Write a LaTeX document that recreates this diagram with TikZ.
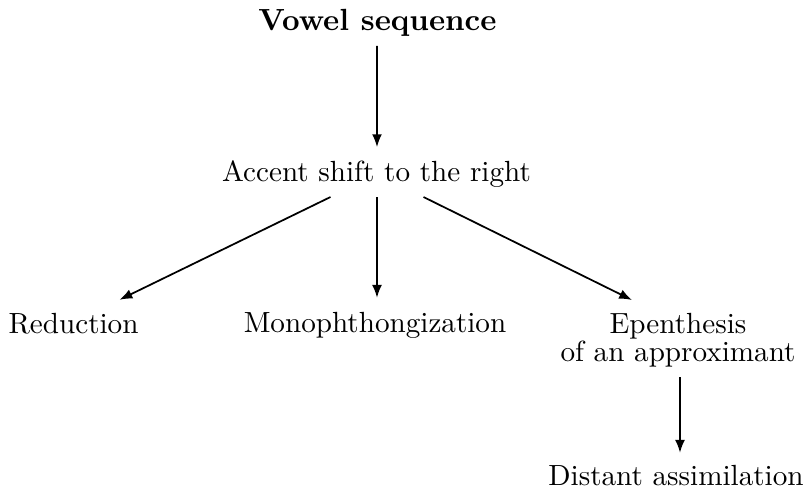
\documentclass[tikz,border=0pt]{standalone}
\usetikzlibrary{arrows.meta,calc}
\begin{document}
\begin{tikzpicture}[x=0.343pt,y=-0.343pt,
  lbl/.style={inner sep=0pt,outer sep=0pt,anchor=base},
  arr/.style={line width=0.6pt,-{Latex[length=4.4pt,width=3.4pt]}}]
\useasboundingbox (0,0) rectangle (806,493);
\node[lbl,scale=1.05] (vs) at (377.5,30) {\bfseries Vowel sequence};
\node[lbl] (acc) at (376.5,181) {Accent shift to the right};
\node[lbl] (red) at (73.5,333) {Reduction};
\node[lbl] (mono) at (375,332) {Monophthongization};
\node[inner sep=0pt,outer sep=0pt,anchor=north,align=center] (epen) at (678,313) {Epenthesis\\[-2.3pt]of an approximant};
\node[lbl] (dist) at (676,485) {Distant assimilation};
\draw[arr] ($(vs.south)+(-0.5,10)$) -- ($(acc.north)+(0.5,-13)$);
\draw[arr] ($(acc.south)+(-46,10)$) -- ($(red.north)+(46,-13)$);
\draw[arr] ($(acc.south)+(0.5,10)$) -- ($(mono.north)+(2,-14)$);
\draw[arr] ($(acc.south)+(47,10)$) -- ($(epen.north)+(-46,-13)$);
\draw[arr] ($(epen.south)+(2,10)$) -- ($(dist.north)+(4,-12)$);
\end{tikzpicture}
\end{document}
